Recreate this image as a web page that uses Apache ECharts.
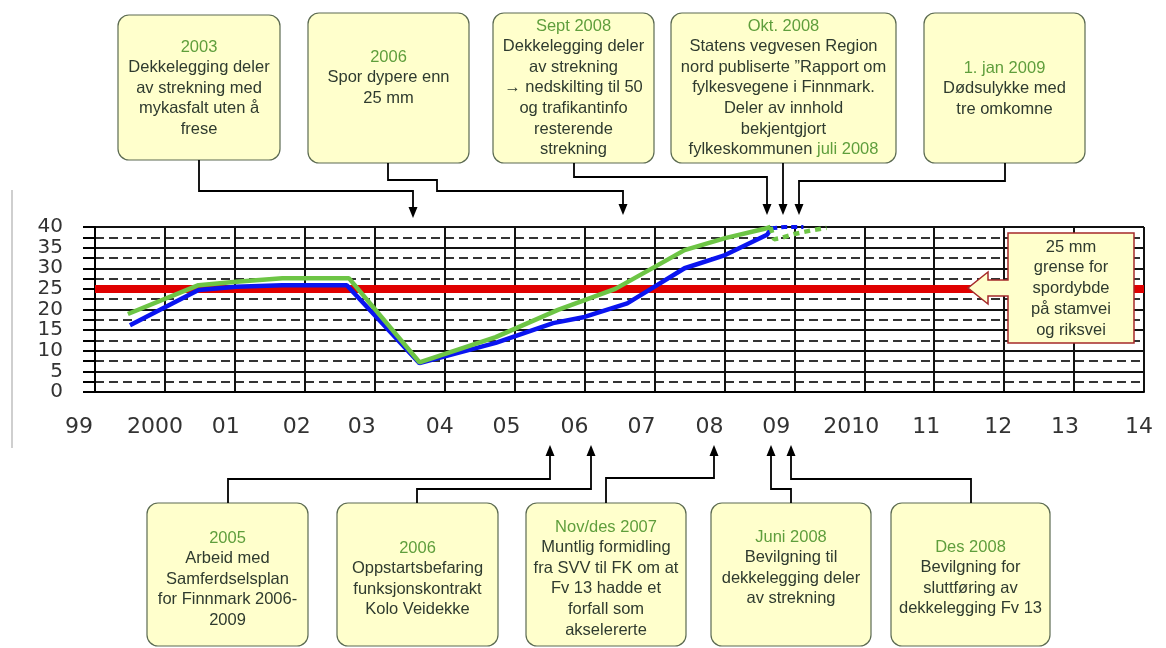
<!DOCTYPE html>
<html>
<head>
<meta charset="utf-8">
<script src="https://cdn.jsdelivr.net/npm/echarts@6/dist/echarts.min.js"></script>
<style>
html,body{margin:0;padding:0;background:#fff;}
#c{width:1166px;height:648px;}
</style>
</head>
<body>
<div id="c"></div>
<script>
// ---------- DATA ----------
var xLabels = ['99','2000','01','02','03','04','05','06','07','08','09','2010','11','12','13','14'];
var yTicks = [0,5,10,15,20,25,30,35,40];
var limitValue = 25; // 25 mm grense
// Measured rut depth (mm), x = decimal year
var blueMeasured = [
  [1999.50,16.2],[2000.48,24.7],[2001.02,25.5],[2001.68,25.9],[2002.60,25.9],
  [2003.64,7.0],[2004.73,11.9],[2005.55,16.7],[2006.00,18.2],[2006.61,21.5],
  [2006.95,25.0],[2007.43,30.0],[2008.01,33.2],[2008.61,38.1],[2008.67,39.7]
];
var blueProjected = [[2008.67,39.7],[2008.86,40.0],[2009.13,40.0]];
var greenMeasured = [
  [1999.47,18.9],[2000.48,25.9],[2001.02,26.7],[2001.68,27.6],[2002.63,27.6],
  [2003.64,7.2],[2004.73,13.3],[2005.62,19.9],[2006.44,25.0],[2007.01,30.4],
  [2007.43,34.4],[2008.01,37.3],[2008.56,39.5],[2008.66,40.0]
];
var greenProjected = [[2008.66,40.0],[2008.71,37.0],[2008.80,37.3],[2009.00,38.3],[2009.25,39.2],[2009.46,39.8]];

// Event texts ({g|..} = green date text)
var topEvents = [
  ['{g|2003}','Dekkelegging deler','av strekning med','mykasfalt uten å','frese'],
  ['{g|2006}','Spor dypere enn','25 mm'],
  ['{g|Sept 2008}','Dekkelegging deler','av strekning','→ nedskilting til 50','og trafikantinfo','resterende','strekning'],
  ['{g|Okt. 2008}','Statens vegvesen Region','nord publiserte ”Rapport om','fylkesvegene i Finnmark.','Deler av innhold','bekjentgjort','fylkeskommunen {g|juli 2008}'],
  ['{g|1. jan 2009}','Dødsulykke med','tre omkomne']
];
var bottomEvents = [
  ['{g|2005}','Arbeid med','Samferdselsplan','for Finnmark 2006-','2009'],
  ['{g|2006}','Oppstartsbefaring','funksjonskontrakt','Kolo Veidekke'],
  ['{g|Nov/des 2007}','Muntlig formidling','fra SVV til FK om at','Fv 13 hadde et','forfall som','akselererte'],
  ['{g|Juni 2008}','Bevilgning til','dekkelegging deler','av strekning'],
  ['{g|Des 2008}','Bevilgning for','sluttføring av','dekkelegging Fv 13']
];
var calloutText = ['25 mm','grense for','spordybde','på stamvei','og riksvei'];

// ---------- LAYOUT ----------
var labelShift = [-16,-10,-9,-8,-13,-5,-8,-10,-13,-15,-18,-13,-8,-6,-9,-5];
var topLayout = [
  {x:118,y:15,w:162,h:145,cx:199,ty:47, path:[[199,160],[199,191],[413,191],[413,207]], tip:[413,218]},
  {x:308,y:13,w:161,h:150,cx:388.5,ty:57, path:[[388,163],[388,180],[437,180],[437,191],[623,191],[623,204]], tip:[623,215]},
  {x:493,y:13,w:161,h:150,cx:573.5,ty:26, path:[[574,163],[574,177],[767,177],[767,204]], tip:[767,215]},
  {x:671,y:13,w:225,h:150,cx:783.5,ty:26, path:[[783,163],[783,204]], tip:[783,215]},
  {x:924,y:13,w:161,h:150,cx:1004.5,ty:68, path:[[1005,163],[1005,181],[799,181],[799,204]], tip:[799,215]}
];
var bottomLayout = [
  {x:147,y:503,w:161,h:143,cx:227.5,ty:538, path:[[228,503],[228,479],[550,479],[550,456]], tip:[550,445]},
  {x:337,y:503,w:161,h:143,cx:417.5,ty:548, path:[[417,503],[417,489],[591,489],[591,456]], tip:[591,445]},
  {x:526,y:503,w:160,h:143,cx:606,ty:527, path:[[606,503],[606,478],[714,478],[714,456]], tip:[714,445]},
  {x:711,y:503,w:160,h:143,cx:791,ty:537, path:[[791,503],[791,489],[771,489],[771,456]], tip:[771,445]},
  {x:891,y:503,w:159,h:143,cx:970.5,ty:547, path:[[971,503],[971,479],[791,479],[791,456]], tip:[791,445]}
];
var LH = 20.6;
var FONT = '16.5px "Liberation Sans", Arial, sans-serif';
var TXT = '#2f3b2f', GREEN = '#5f9e3c', BOXFILL = '#ffffcc', BOXSTROKE = '#5c6b52';

var graphics = [];
graphics.push({type:'line', shape:{x1:12,y1:190,x2:12,y2:448}, style:{stroke:'#cfcfcf', lineWidth:2}, z:1});

function addBox(lay, lines, down){
  graphics.push({type:'rect', shape:{x:lay.x,y:lay.y,width:lay.w,height:lay.h,r:11},
    style:{fill:BOXFILL, stroke:BOXSTROKE, lineWidth:1.2}, z:10});
  lines.forEach(function(t,i){
    graphics.push({type:'text', x:lay.cx, y:lay.ty + i*LH, z:11,
      style:{text:t, font:FONT, fill:TXT, align:'center', verticalAlign:'middle',
        rich:{g:{fill:GREEN, font:FONT}}}});
  });
  graphics.push({type:'polyline', shape:{points:lay.path}, style:{stroke:'#000', lineWidth:1.8, fill:null}, z:10});
  var t = lay.tip, s = down ? -1 : 1;
  graphics.push({type:'polygon', shape:{points:[[t[0],t[1]],[t[0]-4.5,t[1]+s*11],[t[0]+4.5,t[1]+s*11]]},
    style:{fill:'#000'}, z:10});
}
topLayout.forEach(function(l,i){ addBox(l, topEvents[i], true); });
bottomLayout.forEach(function(l,i){ addBox(l, bottomEvents[i], false); });

// callout with left arrow
graphics.push({type:'polygon', z:10, shape:{points:[[1008,233],[1134,233],[1134,343],[1008,343],[1008,296],[988,296],[988,304],[968,288],[988,272],[988,280],[1008,280]]},
  style:{fill:BOXFILL, stroke:'#a52a2a', lineWidth:1.5}});
calloutText.forEach(function(t,i){
  graphics.push({type:'text', x:1071, y:247 + i*20.75, z:11,
    style:{text:t, font:FONT, fill:TXT, align:'center', verticalAlign:'middle'}});
});

var rich = {};
labelShift.forEach(function(s,i){
  rich['o'+i] = {fontFamily:'DejaVu Sans', fontSize:22, color:'#333', lineHeight:23,
    padding: s < 0 ? [0,-2*s,0,0] : [0,0,0,2*s]};
});

var chart = echarts.init(document.getElementById('c'), null, {renderer:'canvas'});
chart.setOption({
  animation:false,
  backgroundColor:'#fff',
  grid:{left:95, right:17, top:227, bottom:256},
  xAxis:{
    type:'value', min:1999, max:2014, interval:1,
    axisLine:{show:true, lineStyle:{color:'#000', width:2}},
    axisTick:{show:false},
    splitLine:{show:true, lineStyle:{color:'#111', width:2}},
    axisLabel:{margin:24, showMinLabel:true, showMaxLabel:true, hideOverlap:false,
      formatter:function(v){ var i = Math.round(v-1999); return '{o'+i+'|'+xLabels[i]+'}'; }, rich:rich}
  },
  yAxis:{
    type:'value', min:yTicks[0], max:yTicks[yTicks.length-1], interval:5,
    axisLine:{show:true, lineStyle:{color:'#000', width:2}},
    axisTick:{show:true, length:12, lineStyle:{color:'#000', width:2}},
    minorTick:{show:true, splitNumber:2, length:12, lineStyle:{color:'#000', width:2}},
    splitLine:{show:true, lineStyle:{color:'#111', width:2}},
    minorSplitLine:{show:true, lineStyle:{color:'#333', width:2, type:[9,5]}},
    axisLabel:{margin:32, showMinLabel:true, showMaxLabel:true, fontFamily:'DejaVu Sans', fontSize:20, color:'#333', lineHeight:20}
  },
  series:[
    {type:'line', data:[[1999,limitValue],[2014,limitValue]], showSymbol:false, silent:true,
      lineStyle:{color:'#e00000', width:8}, z:2},
    {type:'line', data:blueMeasured, showSymbol:false, clip:false, lineStyle:{color:'#0a14f0', width:4.5}, z:3},
    {type:'line', data:blueProjected, showSymbol:false, clip:false, lineStyle:{color:'#0a14f0', width:4, type:[6,4]}, z:3},
    {type:'line', data:greenMeasured, showSymbol:false, clip:false, lineStyle:{color:'#6dc545', width:4.5}, z:4},
    {type:'line', data:greenProjected, showSymbol:false, clip:false, lineStyle:{color:'#6dc545', width:4.5, type:[6,5]}, z:4}
  ],
  graphic:graphics
});
</script>
</body>
</html>
